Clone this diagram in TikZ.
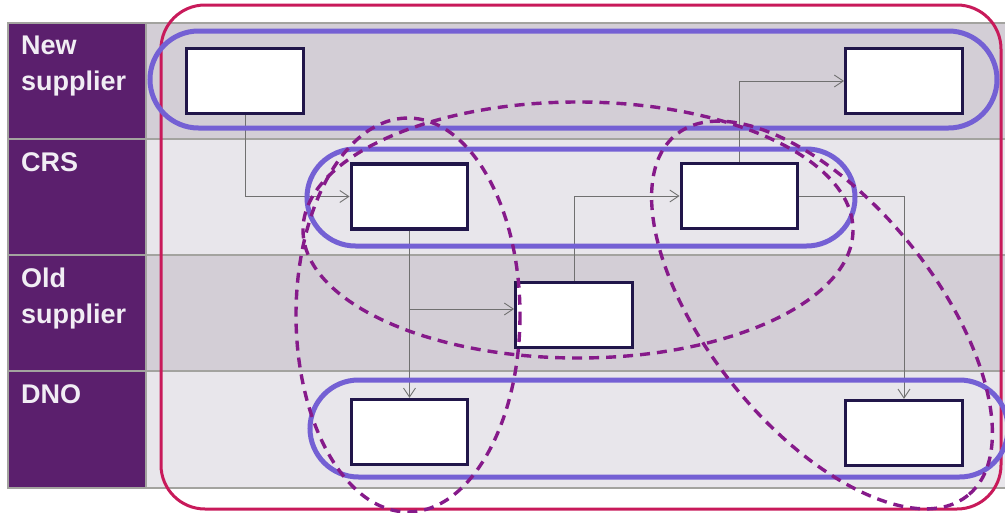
\documentclass[tikz,border=0pt]{standalone}
\usepackage{fontspec}
\setmainfont{Liberation Sans}
\usetikzlibrary{arrows.meta}

\definecolor{lanepurple}{RGB}{91,31,109}
\definecolor{lanetext}{RGB}{241,237,244}
\definecolor{lanedark}{RGB}{211,206,214}
\definecolor{lanelight}{RGB}{232,230,235}
\definecolor{gridgray}{RGB}{163,163,159}
\definecolor{boxnavy}{RGB}{33,22,74}
\definecolor{pillblue}{RGB}{116,96,212}
\definecolor{framered}{RGB}{200,26,90}
\definecolor{dashpurple}{RGB}{134,26,138}
\definecolor{linkgray}{RGB}{112,112,112}

\tikzset{
  lanelabel/.style={anchor=north west, inner sep=0pt, align=left, text=lanetext,
    font=\fontsize{27}{35.5}\selectfont\bfseries},
  stepbox/.style={draw=boxnavy, line width=3.3pt, fill=white, inner sep=0pt,
    minimum width=116.5pt, minimum height=65pt},
  link/.style={draw=linkgray, line width=0.9pt, -{Straight Barb[length=9pt,width=12pt]}},
  pill/.style={draw=pillblue, line width=5pt, rounded corners=48.5pt},
  ring/.style={draw=dashpurple, line width=3.4pt, dash pattern=on 10pt off 7pt},
}

\begin{document}
\begin{tikzpicture}[x=1pt, y=-1pt]
        \useasboundingbox (0,0) rectangle (1005,512);
        \clip (0,0) rectangle (1005,512);
        % swim lanes
        \filldraw[color=gridgray, fill=lanedark, line width=2pt] (146,23) rectangle (1012,139);
        \filldraw[color=gridgray, fill=lanelight, line width=2pt] (146,139) rectangle (1012,255);
        \filldraw[color=gridgray, fill=lanedark, line width=2pt] (146,255) rectangle (1012,371);
        \filldraw[color=gridgray, fill=lanelight, line width=2pt] (146,371) rectangle (1012,488);
        \filldraw[color=gridgray, fill=lanepurple, line width=2pt] (8,23) rectangle (146,139);
        \filldraw[color=gridgray, fill=lanepurple, line width=2pt] (8,139) rectangle (146,255);
        \filldraw[color=gridgray, fill=lanepurple, line width=2pt] (8,255) rectangle (146,371);
        \filldraw[color=gridgray, fill=lanepurple, line width=2pt] (8,371) rectangle (146,488);
        \node[lanelabel] (newsup) at (21,36) {New\\supplier};
        \node[lanelabel] (crs) at (21,152) {CRS};
        \node[lanelabel] (oldsup) at (21,268) {Old\\supplier};
        \node[lanelabel] (dno) at (21,384) {DNO};
        \draw[color=framered, line width=3pt, rounded corners=44pt] (161,5) rectangle (1001,509);
        % process steps
        \node[stepbox] (ns1) at (245,81) {};
        \node[stepbox] (ns2) at (904,81) {};
        \node[stepbox] (crs1) at (409.5,196.5) {};
        \node[stepbox] (crs2) at (739.5,196) {};
        \node[stepbox] (old) at (574,315) {};
        \node[stepbox] (dno1) at (409.5,432) {};
        \node[stepbox] (dno2) at (904,433) {};
        \draw[link] (ns1.south) |- (crs1.west);
        \draw[link] (crs1.south) -- (dno1.north);
        \draw[link] (crs1.south) |- ([yshift=6pt]old.west);
        \draw[link] (old.north) |- (crs2.west);
        \draw[link] (crs2.north) |- (ns2.west);
        \draw[link] (crs2.east) -| (dno2.north);
        % groupings
        \draw[pill] (150,31) rectangle (997,128);
        \draw[pill] (307,149) rectangle (855,246);
        \draw[pill] (310,380) rectangle (1008,477);
        \draw[ring] (408,315) ellipse [x radius=112, y radius=197];
        \draw[ring] (578,230) ellipse [x radius=275, y radius=128];
        \draw[ring, rotate around={-51:(822,315)}] (822,315) ellipse [x radius=232, y radius=113];
    \end{tikzpicture}
\end{document}
